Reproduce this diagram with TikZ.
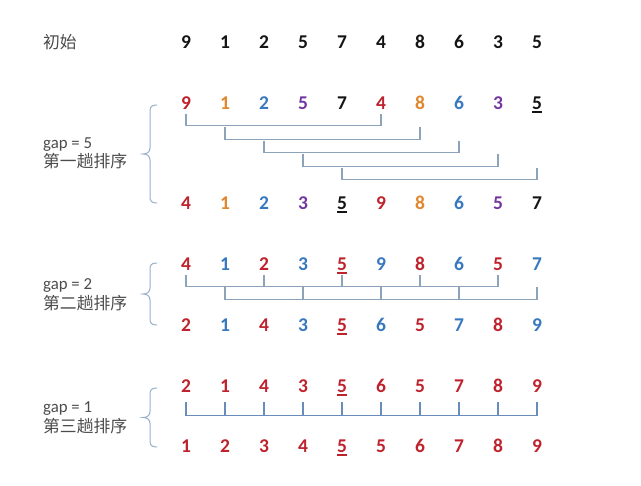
\documentclass[tikz,border=0pt]{standalone}
\usepackage{fontspec}
\setmainfont{Carlito}
\newfontfamily\cjk{Noto Sans CJK SC}
\usetikzlibrary{positioning, calc}
\definecolor{numred}{RGB}{190,35,45}
\definecolor{numorange}{RGB}{225,135,45}
\definecolor{numblue}{RGB}{55,120,190}
\definecolor{numpurple}{RGB}{115,55,160}
\definecolor{numblack}{RGB}{20,20,20}
\definecolor{txtgray}{RGB}{75,75,75}
\definecolor{linkgray}{RGB}{140,163,186}
\definecolor{linkblue}{RGB}{105,140,185}
\definecolor{bracegray}{RGB}{150,175,200}
\newcommand{\ulnum}[1]{\setbox0\hbox{#1}\rlap{\rule[-3.6pt]{\wd0}{1.8pt}}#1}
\tikzset{
	num/.style={font=\bfseries\fontsize{19.5}{20}\selectfont, anchor=base, inner sep=0pt, text height=13pt, text depth=4pt},
	lbl/.style={font=\fontsize{16.8}{19.5}\selectfont, text=txtgray, anchor=west, align=left, inner sep=0pt},
	link/.style={draw=linkgray, line width=1.2pt},
	link_dark/.style={draw=linkblue, line width=1.2pt},
	pass_brace/.style={draw=bracegray, line width=1pt}
}

\begin{document}
\begin{tikzpicture}[x=1pt, y=-1pt]
	\useasboundingbox (0,0) rectangle (641,486);
	% labels
	\node[lbl] (init-lbl) at (43,42) {\cjk 初始};
	\node[lbl] (p1-lbl) at (43,153.5) {gap = 5\\{\cjk 第一趟排序}};
	\node[lbl] (p2-lbl) at (43,294.5) {gap = 2\\{\cjk 第二趟排序}};
	\node[lbl] (p3-lbl) at (43,418) {gap = 1\\{\cjk 第三趟排序}};
	% rows of numbers
	\foreach \v/\c [count=\i] in {9/numblack,1/numblack,2/numblack,5/numblack,7/numblack,4/numblack,8/numblack,6/numblack,3/numblack,5/numblack}
		\node[num, text=\c] (init-\i) at ({186+39*(\i-1)}, 48.5) {\v};
	\foreach \v/\c [count=\i] in {9/numred,1/numorange,2/numblue,5/numpurple,7/numblack,4/numred,8/numorange,6/numblue,3/numpurple,\ulnum{5}/numblack}
		\node[num, text=\c] (p1a-\i) at ({186+39*(\i-1)}, 109.5) {\v};
	\foreach \v/\c [count=\i] in {4/numred,1/numorange,2/numblue,3/numpurple,\ulnum{5}/numblack,9/numred,8/numorange,6/numblue,5/numpurple,7/numblack}
		\node[num, text=\c] (p1b-\i) at ({186+39*(\i-1)}, 209.5) {\v};
	\foreach \v/\c [count=\i] in {4/numred,1/numblue,2/numred,3/numblue,\ulnum{5}/numred,9/numblue,8/numred,6/numblue,5/numred,7/numblue}
		\node[num, text=\c] (p2a-\i) at ({186+39*(\i-1)}, 270.5) {\v};
	\foreach \v/\c [count=\i] in {2/numred,1/numblue,4/numred,3/numblue,\ulnum{5}/numred,6/numblue,5/numred,7/numblue,8/numred,9/numblue}
		\node[num, text=\c] (p2b-\i) at ({186+39*(\i-1)}, 331.5) {\v};
	\foreach \v [count=\i] in {2,1,4,3,\ulnum{5},6,5,7,8,9}
		\node[num, text=numred] (p3a-\i) at ({186+39*(\i-1)}, 392.5) {\v};
	\foreach \v [count=\i] in {1,2,3,4,\ulnum{5},5,6,7,8,9}
		\node[num, text=numred] (p3b-\i) at ({186+39*(\i-1)}, 452.5) {\v};
	% braces
	\foreach \t/\m/\b in {105/154/203, 263/294/325, 388/417.5/447}
		\draw[pass_brace] (157,\t) .. controls (151,\t) and (150,\t+2) .. (150,\t+7)
			-- (150,\m-6) .. controls (150,\m-2) and (147,\m) .. (143,\m)
			.. controls (147,\m) and (150,\m+2) .. (150,\m+6)
			-- (150,\b-7) .. controls (150,\b-2) and (151,\b) .. (157,\b);
	% gap = 5
	\foreach \k in {0,...,4}{
		\pgfmathtruncatemacro{\a}{\k+1}
		\pgfmathtruncatemacro{\b}{\k+6}
		\draw[link] ([yshift=-\k*13.5pt]p1a-\a.south) -- ++(0,12) -| ([yshift=-\k*13.5pt]p1a-\b.south);
	}
	% gap = 2
	\draw[link] (p2a-1.south) -- ++(0,11.5) -| (p2a-9.south);
	\foreach \c in {3,5,7}
		\draw[link] (p2a-\c.south) -- ++(0,11.5);
	\draw[link] ([yshift=-12.5pt]p2a-2.south) -- ++(0,12) -| ([yshift=-12.5pt]p2a-10.south);
	\foreach \c in {4,6,8}
		\draw[link] ([yshift=-12.5pt]p2a-\c.south) -- ++(0,12);
	% gap = 1
	\draw[link_dark] ([yshift=-5.5pt]p3a-1.south) -- ++(0,13) -| ([yshift=-5.5pt]p3a-10.south);
	\foreach \c in {2,...,9}
		\draw[link_dark] ([yshift=-5.5pt]p3a-\c.south) -- ++(0,13);
\end{tikzpicture}
\end{document}
